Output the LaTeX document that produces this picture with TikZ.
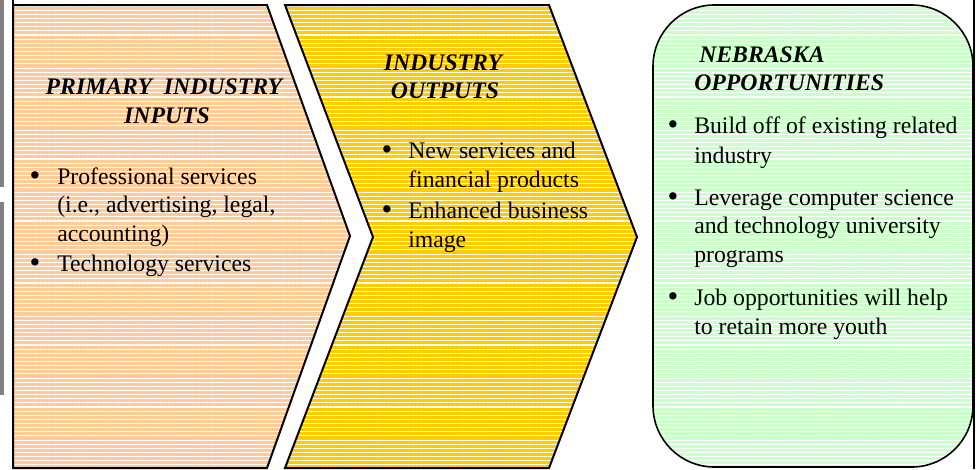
\documentclass[tikz,border=0pt]{standalone}
\usepackage{fontspec}
\setmainfont{Liberation Serif}
\usetikzlibrary{patterns.meta}
\definecolor{orangeC}{HTML}{FFCC99}
\definecolor{yellowC}{HTML}{FFCC00}
\definecolor{greenC}{HTML}{CCFFCC}
\definecolor{grayC}{HTML}{808080}
\tikzset{
  stripes/.style={preaction={fill=#1}, pattern={Lines[angle=0,distance=3.1pt,line width=0.8pt]}, pattern color=white, draw=black, line width=1.5pt, line join=miter},
  txt/.style={font=\fontsize{17.8}{21}\selectfont, inner sep=0pt, anchor=base west},
  ttl/.style={font=\fontsize{17.8}{21}\selectfont\bfseries\itshape, inner sep=0pt, anchor=base},
  ttlw/.style={ttl, anchor=base west},
  bul/.style={font=\fontsize{23}{21}\selectfont, inner sep=0pt, anchor=base},
  frame/.style={draw=black, line width=1pt}
}
\begin{document}
\begin{tikzpicture}[x=0.75pt,y=-0.75pt]
\useasboundingbox (0,0) rectangle (977,469);
% gray bars at left edge
\fill[grayC] (0,0) rectangle (3.5,187);
\fill[grayC] (0,202) rectangle (3.5,395);
% frame lines
\coordinate (fl1) at (13,0); \coordinate (fl2) at (13,469);
\coordinate (fr1) at (974,0); \coordinate (fr2) at (974,469);
\draw[frame] (fl1) -- (fl2);
\draw[frame] (fr1) -- (fr2);
% orange chevron
\path[stripes=orangeC] (13,5) -- (267,5) -- (350,236) -- (267,468) -- (13,468) -- cycle;
% yellow chevron
\path[stripes=yellowC] (285,5) -- (549,5) -- (637,237) -- (549,468) -- (285,468) -- (373,237) -- cycle;
% green rounded box
\path[stripes=greenC, line width=1.2pt, rounded corners=46pt] (653,5) rectangle (973,467);

% orange texts
\node[ttl] (ot1) at (164,94) {PRIMARY\ \ INDUSTRY};
\node[ttl] (ot2) at (167,123) {INPUTS};
\node[bul] (ob1) at (35,185) {\textbullet};
\node[txt] (o1) at (57,184) {Professional services};
\node[txt] (o2) at (57,212.5) {(i.e., advertising, legal,};
\node[txt] (o3) at (57,241) {accounting)};
\node[bul] (ob2) at (35,272) {\textbullet};
\node[txt] (o4) at (57,271) {Technology services};

% yellow texts
\node[ttl] (yt1) at (443,70) {INDUSTRY};
\node[ttl] (yt2) at (445,98) {OUTPUTS};
\node[bul] (yb1) at (387,159) {\textbullet};
\node[txt] (y1) at (408,158) {New services and};
\node[txt] (y2) at (408,187) {financial products};
\node[bul] (yb2) at (387,219) {\textbullet};
\node[txt] (y3) at (408,218) {Enhanced business};
\node[txt] (y4) at (408,247) {image};

% green texts
\node[ttlw] (gt1) at (699,62) {NEBRASKA};
\node[ttlw] (gt2) at (694,90) {OPPORTUNITIES};
\node[bul] (gb1) at (673,134) {\textbullet};
\node[txt] (g1) at (694,133) {Build off of existing related};
\node[txt] (g2) at (694,163) {industry};
\node[bul] (gb2) at (673,206) {\textbullet};
\node[txt] (g3) at (694,205) {Leverage computer science};
\node[txt] (g4) at (694,233) {and technology university};
\node[txt] (g5) at (694,262) {programs};
\node[bul] (gb3) at (673,306) {\textbullet};
\node[txt] (g6) at (694,305) {Job opportunities will help};
\node[txt] (g7) at (694,334) {to retain more youth};
\end{tikzpicture}
\end{document}
